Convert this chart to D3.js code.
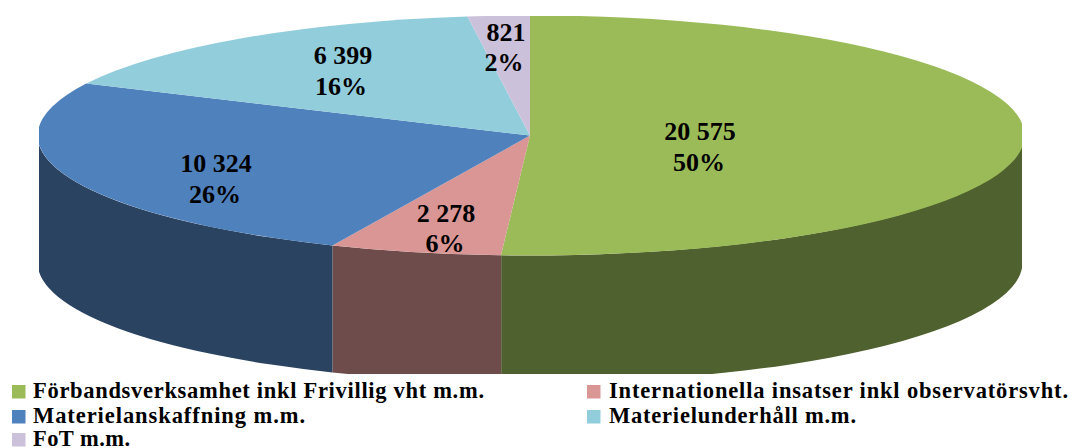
<!DOCTYPE html>
<html>
<head>
<meta charset="utf-8">
<script src="https://cdn.jsdelivr.net/npm/d3@7/dist/d3.min.js"></script>
<style>
html,body{margin:0;padding:0;background:#fff;}
svg{display:block;}
text{font-family:"Liberation Serif","Times New Roman",serif;font-weight:bold;fill:#000;}
</style>
</head>
<body>
<svg id="chart" width="1070" height="448"></svg>
<script>
const categories = ["Förbandsverksamhet inkl Frivillig vht m.m.","Internationella insatser inkl observatörsvht.","Materielanskaffning m.m.","Materielunderhåll m.m.","FoT m.m."];
const values = [20575, 2278, 10324, 6399, 821];
const percentLabels = ["50%","6%","26%","16%","2%"];
const topColors = ["#9BBB59","#D99694","#4F81BD","#92CDDC","#CCC1DA"];
const wallColors = ["#4F612E","#6E4C4B","#2A4361","#4A6870","#675F6E"];

// layout
const W = 1070, H = 448;
const cx = 530, cy = 135.5, rx = 492.5, ry = 120, depth = 127;
const clip = {x:39, y:16, w:983, h:358};
const labelFont = 26, legendFont = 22.5;
const labelAnchors = [[700,140,699,171],[446,222,445,252],[216,172,215,203],[343,64,341,95],[506,41,504,71]];
const legendSwatch = 13.5;
const legendPos = [
  {x:12,y:385,tx:33,ty:398,len:451},
  {x:587,y:385,tx:609,ty:398,len:459},
  {x:12,y:410,tx:33,ty:423,len:272},
  {x:587,y:410,tx:609,ty:423,len:247},
  {x:12,y:433,tx:33,ty:446,len:97}
];

const svg = d3.select("#chart");
svg.append("defs").append("clipPath").attr("id","plot").append("rect")
  .attr("x",clip.x).attr("y",clip.y).attr("width",clip.w).attr("height",clip.h);

const fmt = d3.formatLocale({decimal:",",thousands:" ",grouping:[3],currency:["","" ]}).format(",d");
const color = d3.scaleOrdinal().domain(categories).range(topColors);
const wall = d3.scaleOrdinal().domain(categories).range(wallColors);
const pie = d3.pie().sort(null).value((d,i)=>values[categories.indexOf(d)]);
const arcs = pie(categories);

const px = a => cx + rx*Math.sin(a);
const py = (a,off=0) => cy + off - ry*Math.cos(a);

const plot = svg.append("g").attr("clip-path","url(#plot)");

// visible side walls (front half of the disc only)
const lo = Math.PI/2, hi = 3*Math.PI/2;
plot.append("g").selectAll("path")
  .data(arcs.filter(d=>d.endAngle>lo && d.startAngle<hi))
  .join("path")
  .attr("fill",d=>wall(d.data))
  .attr("d",d=>{
    const a0=Math.max(d.startAngle,lo), a1=Math.min(d.endAngle,hi);
    return `M${px(a0)},${py(a0)}`+
      `A${rx},${ry} 0 0 1 ${px(a1)},${py(a1)}`+
      `L${px(a1)},${py(a1,depth)}`+
      `A${rx},${ry} 0 0 0 ${px(a0)},${py(a0,depth)}Z`;
  });

// top face
const arc = d3.arc().innerRadius(0).outerRadius(1);
plot.append("g").attr("transform",`translate(${cx},${cy}) scale(${rx},${ry})`)
  .selectAll("path").data(arcs).join("path")
  .attr("fill",d=>color(d.data))
  .attr("d",arc);

// labels
const lab = svg.append("g").attr("font-size",labelFont).attr("text-anchor","middle");
arcs.forEach((d,i)=>{
  const p = labelAnchors[i];
  lab.append("text").attr("x",p[0]).attr("y",p[1]).text(fmt(d.value));
  lab.append("text").attr("x",p[2]).attr("y",p[3]).text(percentLabels[i]);
});

// legend
const leg = svg.append("g").selectAll("g").data(categories).join("g");
leg.append("rect").attr("x",(d,i)=>legendPos[i].x).attr("y",(d,i)=>legendPos[i].y)
  .attr("width",legendSwatch).attr("height",legendSwatch).attr("fill",d=>color(d));
leg.append("text").attr("x",(d,i)=>legendPos[i].tx).attr("y",(d,i)=>legendPos[i].ty)
  .attr("font-size",legendFont)
  .attr("textLength",(d,i)=>legendPos[i].len).attr("lengthAdjust","spacing")
  .text(d=>d);
</script>
</body>
</html>
